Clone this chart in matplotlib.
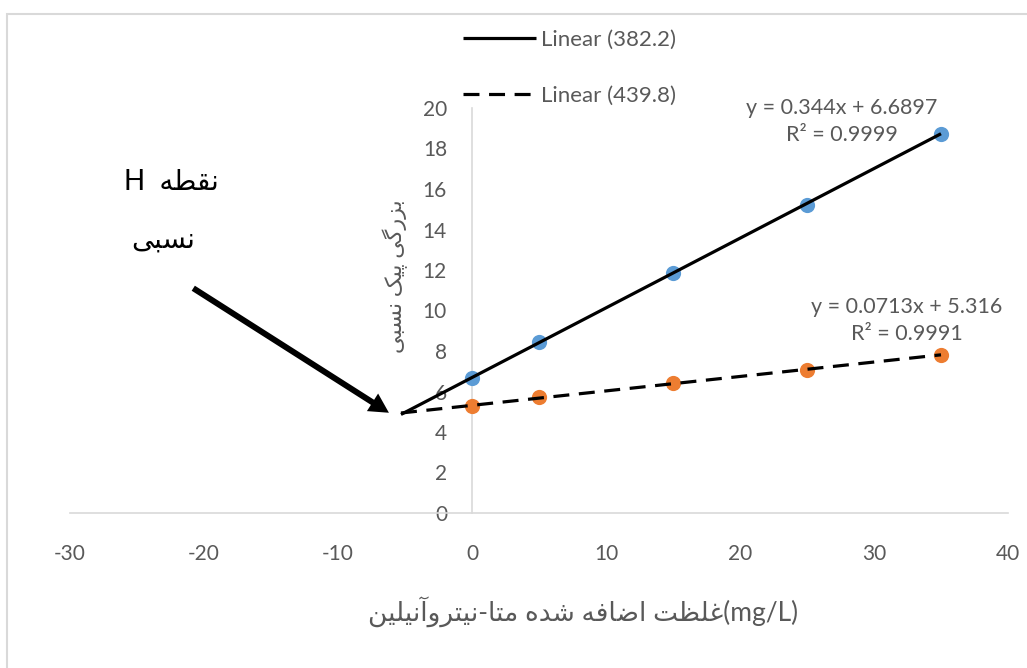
import matplotlib
matplotlib.use('Agg')
import matplotlib.pyplot as plt
import numpy as np
from matplotlib.patches import Rectangle

# data
x_added = [0, 5, 15, 25, 35]
peak_382 = [6.67, 8.43, 11.87, 15.22, 18.73]
peak_440 = [5.28, 5.72, 6.40, 7.07, 7.80]
slopes = [0.344, 0.0713]
intercepts = [6.6897, 5.316]
r_squared = ['0.9999', '0.9991']
series_names = ['Linear (382.2)', 'Linear (439.8)']
forecast_back = 5.3
x_ticks = [-30, -20, -10, 0, 10, 20, 30, 40]
y_ticks = [0, 2, 4, 6, 8, 10, 12, 14, 16, 18, 20]

x_title = 'غلظت اضافه شده متا-نیتروآنیلین'
x_unit = '(mg/L)'
y_title = 'بزرگی پیک نسبی'
point_word = 'نقطه'
point_letter = 'H'
point_word2 = 'نسبی'

# minimal arabic/persian shaping (matplotlib has no complex text layout)
AR_FORMS = {
    'ا': ('\uFE8D', '\uFE8E', None, None),
    'آ': ('\uFE81', '\uFE82', None, None),
    'ب': ('\uFE8F', '\uFE90', '\uFE91', '\uFE92'),
    'پ': ('\uFB56', '\uFB57', '\uFB58', '\uFB59'),
    'ت': ('\uFE95', '\uFE96', '\uFE97', '\uFE98'),
    'د': ('\uFEA9', '\uFEAA', None, None),
    'ر': ('\uFEAD', '\uFEAE', None, None),
    'ز': ('\uFEAF', '\uFEB0', None, None),
    'س': ('\uFEB1', '\uFEB2', '\uFEB3', '\uFEB4'),
    'ش': ('\uFEB5', '\uFEB6', '\uFEB7', '\uFEB8'),
    'ض': ('\uFEBD', '\uFEBE', '\uFEBF', '\uFEC0'),
    'ط': ('\uFEC1', '\uFEC2', '\uFEC3', '\uFEC4'),
    'ظ': ('\uFEC5', '\uFEC6', '\uFEC7', '\uFEC8'),
    'غ': ('\uFECD', '\uFECE', '\uFECF', '\uFED0'),
    'ف': ('\uFED1', '\uFED2', '\uFED3', '\uFED4'),
    'ق': ('\uFED5', '\uFED6', '\uFED7', '\uFED8'),
    '\u06A9': ('\uFB8E', '\uFB8F', '\uFB90', '\uFB91'),
    '\u0643': ('\uFB8E', '\uFB8F', '\uFB90', '\uFB91'),
    'گ': ('\uFB92', '\uFB93', '\uFB94', '\uFB95'),
    'ل': ('\uFEDD', '\uFEDE', '\uFEDF', '\uFEE0'),
    'م': ('\uFEE1', '\uFEE2', '\uFEE3', '\uFEE4'),
    'ن': ('\uFEE5', '\uFEE6', '\uFEE7', '\uFEE8'),
    'ه': ('\uFEE9', '\uFEEA', '\uFEEB', '\uFEEC'),
    'و': ('\uFEED', '\uFEEE', None, None),
    '\u06CC': ('\uFBFC', '\uFBFD', '\uFBFE', '\uFBFF'),
    '\u064A': ('\uFBFC', '\uFBFD', '\uFBFE', '\uFBFF'),
}


def rtl(text):
    out = []
    for i, ch in enumerate(text):
        forms = AR_FORMS.get(ch)
        if forms is None:
            out.append(ch)
            continue
        prev = text[i - 1] if i > 0 else ''
        nxt = text[i + 1] if i + 1 < len(text) else ''
        join_prev = prev in AR_FORMS and AR_FORMS[prev][2] is not None
        join_next = forms[2] is not None and nxt in AR_FORMS
        if join_prev and join_next:
            out.append(forms[3])
        elif join_prev:
            out.append(forms[1])
        elif join_next:
            out.append(forms[2])
        else:
            out.append(forms[0])
    return ''.join(reversed(out))


plt.rcParams['font.family'] = ['Lato', 'DejaVu Sans']
plt.rcParams['axes.unicode_minus'] = False
gray = '#595959'
axis_gray = '#D9D9D9'

fig = plt.figure(figsize=(10.27, 6.68), dpi=100)
W, H = 1027, 668
ax = fig.add_axes([70 / W, 1 - 513 / H, (1008 - 70) / W, (513 - 108) / H])

ax.scatter(x_added, peak_382, s=120, color='#5B9BD5', zorder=3, linewidths=0)
ax.scatter(x_added, peak_440, s=120, color='#ED7D31', zorder=3, linewidths=0)

trend_x = np.array([min(x_added) - forecast_back, max(x_added)])
styles = ['-', (0, (5, 3))]
for k in range(2):
    ax.plot(trend_x, slopes[k] * trend_x + intercepts[k], color='black',
            lw=2.3, linestyle=styles[k], zorder=4, label=series_names[k],
            solid_capstyle='butt', dash_capstyle='butt')

ax.set_xlim(-30, 40)
ax.set_ylim(0, 20)
ax.set_xticks(x_ticks)
ax.set_yticks(y_ticks)
ax.tick_params(length=0, labelsize=15, labelcolor=gray)
ax.tick_params(axis='x', pad=22)
ax.tick_params(axis='y', pad=18)
ax.spines['left'].set_position(('data', 0))
ax.spines['left'].set_color(axis_gray)
ax.spines['bottom'].set_color(axis_gray)
ax.spines['left'].set_linewidth(1.2)
ax.spines['bottom'].set_linewidth(1.2)
ax.spines['top'].set_visible(False)
ax.spines['right'].set_visible(False)

# equations
ax.text(27.6, 19.35, 'y = %gx + %g\nR² = %s' % (slopes[0], intercepts[0], r_squared[0]),
        ha='center', va='center', fontsize=15.5, color=gray, linespacing=1.45)
ax.text(32.45, 9.5, 'y = %gx + %g\nR² = %s' % (slopes[1], intercepts[1], r_squared[1]),
        ha='center', va='center', fontsize=15.5, color=gray, linespacing=1.45)

# arrow to the intersection point
ax.annotate('', xy=(-6.2, 4.95), xytext=(-20.8, 11.1),
            arrowprops=dict(width=4.3, headwidth=15, headlength=14,
                            color='black', lw=0, shrink=0))

leg = ax.legend(loc='upper left', bbox_to_anchor=(463 / W, 1 - 30 / H),
                bbox_transform=fig.transFigure, frameon=False, fontsize=16,
                handlelength=3.3, handletextpad=0.2, labelspacing=1.63,
                borderpad=0, borderaxespad=0)
for t in leg.get_texts():
    t.set_color(gray)

# texts
fig.text(395 / W, 1 - 276 / H, rtl(y_title), rotation=90, ha='center', va='center',
         fontsize=16, color=gray)
fig.text(583 / W, 1 - 612 / H, rtl(x_title) + x_unit, ha='center', va='center',
         fontsize=19, color=gray)
fig.text(171 / W, 1 - 182 / H, point_letter + '  ' + rtl(point_word), ha='center',
         va='center', fontsize=20, color='black')
fig.text(163 / W, 1 - 240 / H, rtl(point_word2), ha='center', va='center',
         fontsize=20, color='black')

fig.patches.append(Rectangle((7 / W, -0.1), 1.2, 1 - 14 / H + 0.1, transform=fig.transFigure,
                             fill=False, ec=axis_gray, lw=1.5))

fig.savefig('out.png', dpi=100)
